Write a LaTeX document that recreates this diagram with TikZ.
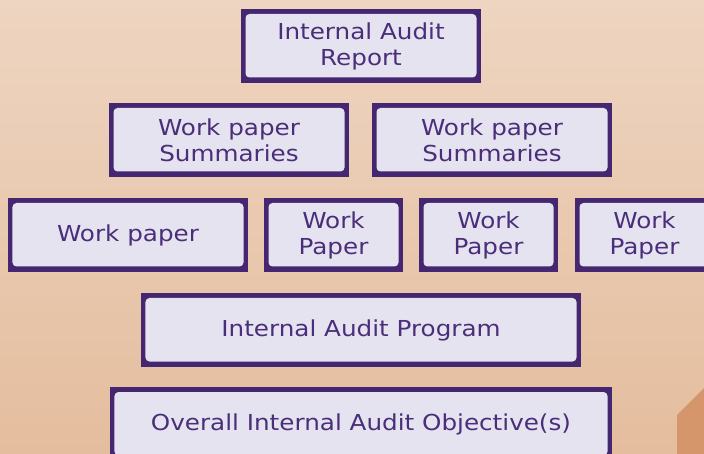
\documentclass[tikz,border=0pt]{standalone}
\usepackage{fontspec}
\setmainfont{DejaVu Sans}[FakeStretch=1.12]
\definecolor{bgtop}{RGB}{238,213,193}
\definecolor{bgbot}{RGB}{228,189,158}
\definecolor{frame}{RGB}{69,38,112}
\definecolor{lav}{RGB}{230,227,240}
\definecolor{txt}{RGB}{74,46,122}
\definecolor{accent}{RGB}{212,150,106}
\tikzset{
  abox/.style={fill=frame, inner sep=0pt, minimum height=74bp, align=center,
    text=txt, font=\fontsize{22bp}{26bp}\selectfont,
    path picture={\fill[lav, rounded corners=4bp]
      ([xshift=4.5bp,yshift=-5bp]path picture bounding box.north west) rectangle
      ([xshift=-4.5bp,yshift=5.5bp]path picture bounding box.south east);}},
}
\begin{document}
\begin{tikzpicture}[x=1bp,y=1bp]
\useasboundingbox (0,0) rectangle (704,-454);
\shade[top color=bgtop, bottom color=bgbot] (0,0) rectangle (704,-454);
\fill[accent] (677,-415) -- (704,-388) -- (704,-454) -- (677,-454) -- cycle;
\node[abox, minimum width=240bp] (rep) at (361,-46) {Internal Audit\\Report};
\node[abox, minimum width=240bp] (sum1) at (229,-140) {Work paper\\Summaries};
\node[abox, minimum width=240bp] (sum2) at (492,-140) {Work paper\\Summaries};
\node[abox, minimum width=240bp] (wp1) at (128,-235) {Work paper};
\node[abox, minimum width=139bp] (wp2) at (333.5,-235) {Work\\Paper};
\node[abox, minimum width=139bp] (wp3) at (488.5,-235) {Work\\Paper};
\node[abox, minimum width=139bp] (wp4) at (644.5,-235) {Work\\Paper};
\node[abox, minimum width=440bp] (prog) at (361,-330) {Internal Audit Program};
\node[abox, minimum width=502bp] (obj) at (361,-424) {Overall Internal Audit Objective(s)};
\end{tikzpicture}
\end{document}
